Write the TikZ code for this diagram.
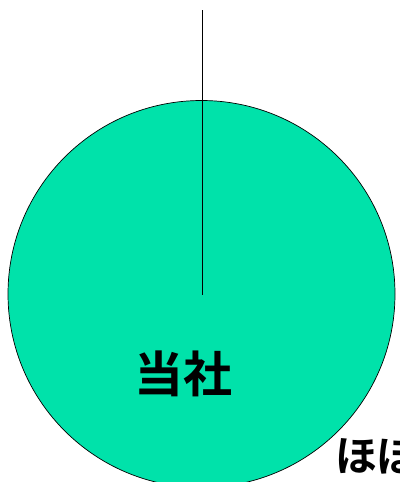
\documentclass[tikz,border=0pt]{standalone}
\usepackage{fontspec}
\newfontfamily\cjk{Noto Sans CJK JP}[BoldFont={* Bold}]
\definecolor{disc}{RGB}{0,226,170}
\begin{document}
\begin{tikzpicture}[x=1pt,y=-1pt,
  labeltext/.style={font=\cjk\bfseries, inner sep=0pt, text=black}]
\useasboundingbox (0,0) rectangle (399,482);
\clip (0,0) rectangle (399,482);
\node[circle, draw=black, line width=0.7pt, fill=disc, minimum size=387pt, inner sep=0pt] (disc) at (201.5,294) {};
\coordinate (top) at (202,10);
\coordinate (ctr) at (202,295);
\draw[line width=0.8pt] (top) -- (ctr);
\node[labeltext, font=\cjk\bfseries\fontsize{49}{52}\selectfont] (tosha) at (183.5,374) {当社};
\node[labeltext, anchor=west, font=\cjk\bfseries\fontsize{42}{46}\selectfont] (hoka) at (335,455) {ほぼ};
\end{tikzpicture}
\end{document}
